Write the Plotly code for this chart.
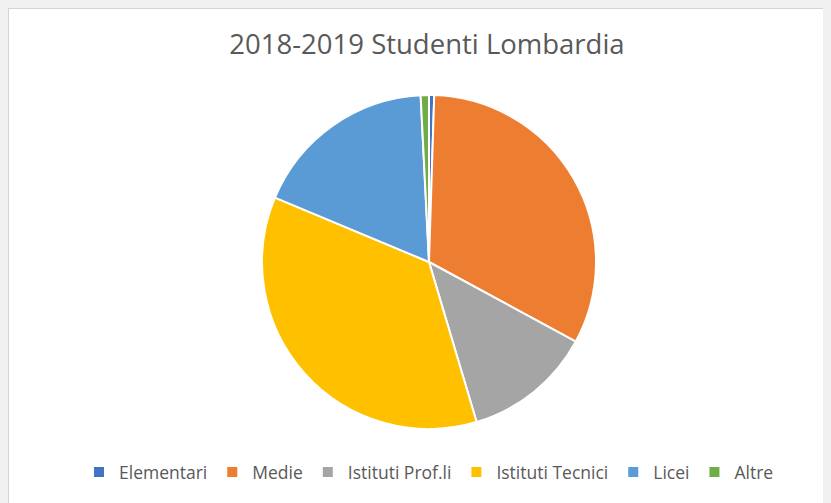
import plotly.graph_objects as go

categories = ["Elementari", "Medie", "Istituti Prof.li", "Istituti Tecnici", "Licei", "Altre"]
values = [0.5, 32.4, 12.5, 35.9, 17.9, 0.8]
colors = ["#4472C4", "#ED7D31", "#A5A5A5", "#FFC000", "#5B9BD5", "#70AD47"]
title_text = "2018-2019 Studenti Lombardia"

# page body has an 8px margin; figure fills the rest of the 831x503 window
OFF = 8
W, H = 831 - OFF, 503 - OFF
cx, cy, r = 429 - OFF, 262 - OFF, 167

fig = go.Figure(go.Pie(
    labels=categories,
    values=values,
    sort=False,
    direction="clockwise",
    rotation=0,
    textinfo="none",
    hoverinfo="label+percent",
    marker=dict(colors=colors, line=dict(color="white", width=2)),
    domain=dict(x=[(cx - r) / W, (cx + r) / W], y=[(H - cy - r) / H, (H - cy + r) / H]),
))

fig.update_layout(
    width=W, height=H,
    margin=dict(l=0, r=0, t=0, b=0),
    paper_bgcolor="white",
    plot_bgcolor="white",
    title=dict(text=title_text, x=(427 - OFF) / W, xanchor="center", y=1 - (44 - OFF) / H, yanchor="middle",
               font=dict(family="Open Sans", size=27.5, color="#595959")),
    legend=dict(orientation="h", x=(429 - OFF) / W, xanchor="center", y=1 - (472 - OFF) / H, yanchor="middle",
                font=dict(family="Open Sans", size=17.5, color="#595959"), bgcolor="rgba(0,0,0,0)"),
    shapes=[dict(type="rect", xref="paper", yref="paper", x0=0, x1=1.02, y0=-0.02, y1=1,
                 fillcolor="rgba(0,0,0,0)", line=dict(color="#d4d4d4", width=2), layer="below")],
)

fig.write_html("out.html", post_script="document.body.style.background='#f0f0f0';")
